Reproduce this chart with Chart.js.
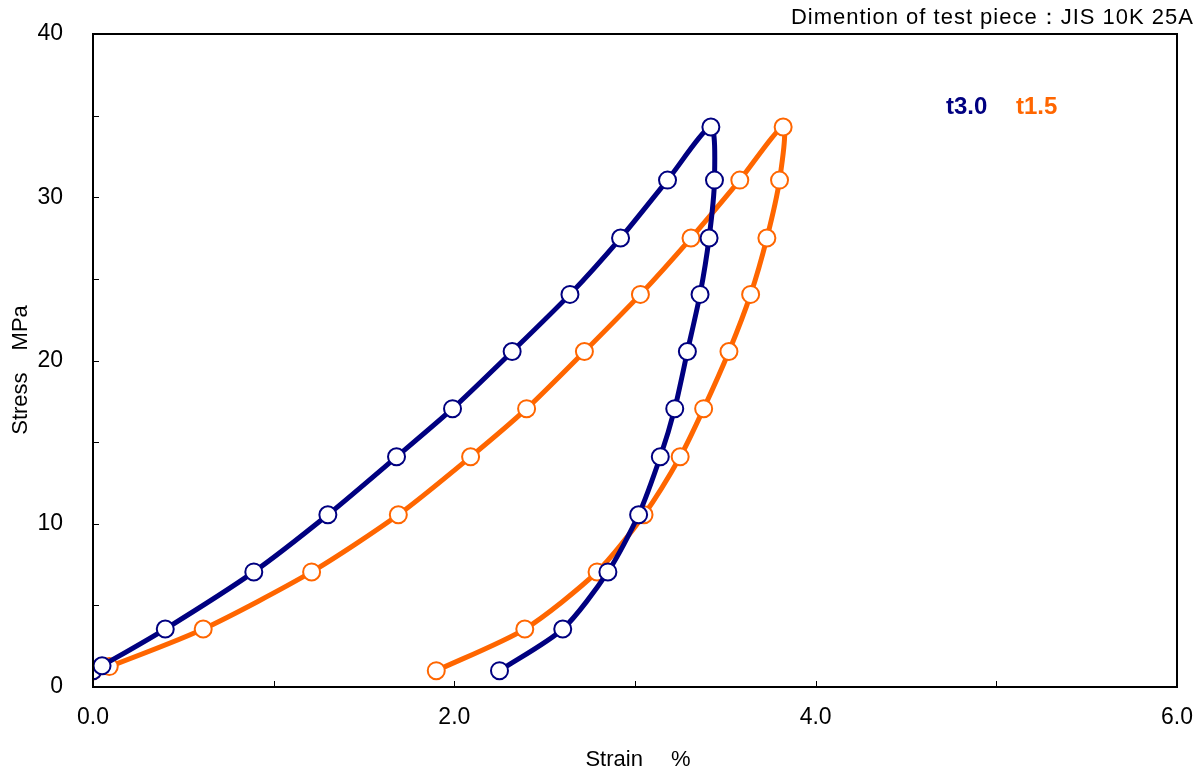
<!DOCTYPE html>
<html>
<head>
<meta charset="utf-8">
<script src="https://cdn.jsdelivr.net/npm/chart.js@4"></script>
<style>
  html, body { margin: 0; padding: 0; background: #fff; }
  #wrap { width: 1202px; height: 773px; position: relative; }
</style>
</head>
<body>
<div id="wrap"><canvas id="myChart"></canvas></div>
<script>
// datos (strain %, stress MPa)
const strainT30 = [0.0, 0.05, 0.40, 0.89, 1.30, 1.68, 1.99, 2.32, 2.64, 2.92, 3.18, 3.42,
                   3.44, 3.41, 3.36, 3.29, 3.22, 3.14, 3.02, 2.85, 2.60, 2.25];
const stressT30 = [1.0, 1.3, 3.55, 7.05, 10.55, 14.1, 17.05, 20.55, 24.05, 27.5, 31.05, 34.3,
                   31.05, 27.5, 24.05, 20.55, 17.05, 14.1, 10.55, 7.05, 3.55, 1.0];

const strainT15 = [0.0, 0.09, 0.61, 1.21, 1.69, 2.09, 2.40, 2.72, 3.03, 3.31, 3.58, 3.82,
                   3.80, 3.73, 3.64, 3.52, 3.38, 3.25, 3.05, 2.79, 2.39, 1.90];
const stressT15 = [1.0, 1.25, 3.55, 7.05, 10.55, 14.1, 17.05, 20.55, 24.05, 27.5, 31.05, 34.3,
                   31.05, 27.5, 24.05, 20.55, 17.05, 14.1, 10.55, 7.05, 3.55, 1.0];

const seriesNames = ['t3.0', 't1.5'];
const seriesColors = ['#000080', '#ff6600'];
const xTickLabels = ['0.0', '2.0', '4.0', '6.0'];
const yTickLabels = ['0', '10', '20', '30', '40'];

const TXT = '"Liberation Sans", Arial, sans-serif';

function toPoints(xs, ys) {
  return xs.map(function (x, i) { return { x: x, y: ys[i] }; });
}

function serie(idx, pts) {
  return {
    label: seriesNames[idx],
    data: pts,
    showLine: true,
    borderColor: seriesColors[idx],
    borderWidth: 5,
    tension: 0.25,
    pointRadius: 8.5,
    pointBorderWidth: 2,
    pointBackgroundColor: '#ffffff',
    pointBorderColor: seriesColors[idx]
  };
}

// marco, ticks internos y textos
const decor = {
  id: 'decor',
  afterDraw(chart) {
    const c = chart.ctx, a = chart.chartArea;
    const sx = chart.scales.x, sy = chart.scales.y;
    c.save();
    c.strokeStyle = '#000';
    c.lineWidth = 1;
    for (let v = 1; v < 6; v++) {
      const px = Math.round(sx.getPixelForValue(v)) + 0.5;
      c.beginPath(); c.moveTo(px, a.bottom); c.lineTo(px, a.bottom - 6); c.stroke();
    }
    for (let v = 5; v < 40; v += 5) {
      const py = Math.round(sy.getPixelForValue(v)) + 0.5;
      c.beginPath(); c.moveTo(a.left, py); c.lineTo(a.left + 6, py); c.stroke();
    }
    c.lineWidth = 2;
    c.strokeRect(a.left, a.top, a.right - a.left, a.bottom - a.top);

    c.fillStyle = '#000';
    c.textBaseline = 'middle';
    c.font = '22px ' + TXT;
    c.textAlign = 'right';
    c.letterSpacing = '1px';
    c.fillText('Dimention of test piece：JIS 10K 25A', 1194, 18);
    c.letterSpacing = '0px';

    c.textAlign = 'center';
    c.font = '22px ' + TXT;
    c.fillText('Strain\u2003 %', 638, 760);
    c.save();
    c.translate(21, 370);
    c.rotate(-Math.PI / 2);
    c.fillText('Stress\u2003MPa', 0, 0);
    c.restore();

    c.font = 'bold 24px ' + TXT;
    c.textAlign = 'left';
    c.fillStyle = seriesColors[0];
    c.fillText(seriesNames[0], 946, 107);
    c.fillStyle = seriesColors[1];
    c.fillText(seriesNames[1], 1016, 107);
    c.restore();
  }
};

const config = {
  type: 'scatter',
  data: {
    datasets: [
      serie(0, toPoints(strainT30, stressT30)),
      serie(1, toPoints(strainT15, stressT15))
    ]
  },
  options: {
    responsive: true,
    maintainAspectRatio: false,
    animation: false,
    devicePixelRatio: 1,
    layout: { padding: { left: 0, right: 25, top: 34, bottom: 0 } },
    plugins: {
      legend: { display: false },
      tooltip: { enabled: false }
    },
    scales: {
      x: {
        type: 'linear',
        min: 0, max: 6,
        afterFit(s) { s.height = 86; s.paddingLeft = 0; s.paddingRight = 0; },
        grid: { display: false, drawTicks: false },
        border: { display: false },
        ticks: {
          stepSize: 1,
          autoSkip: false,
          maxRotation: 0,
          padding: 17,
          color: '#000',
          font: { family: TXT, size: 23 },
          callback: function (v) { return v % 2 === 0 ? xTickLabels[v / 2] : ''; }
        }
      },
      y: {
        type: 'linear',
        min: 0, max: 40,
        afterFit(s) { s.width = 93; s.paddingTop = 0; s.paddingBottom = 0; },
        grid: { display: false, drawTicks: false },
        border: { display: false },
        ticks: {
          stepSize: 5,
          autoSkip: false,
          padding: 30,
          color: '#000',
          font: { family: TXT, size: 23 },
          callback: function (v) { return v % 10 === 0 ? yTickLabels[v / 10] : ''; }
        }
      }
    }
  },
  plugins: [decor]
};

const myChart = new Chart(document.getElementById('myChart'), config);
</script>
</body>
</html>
